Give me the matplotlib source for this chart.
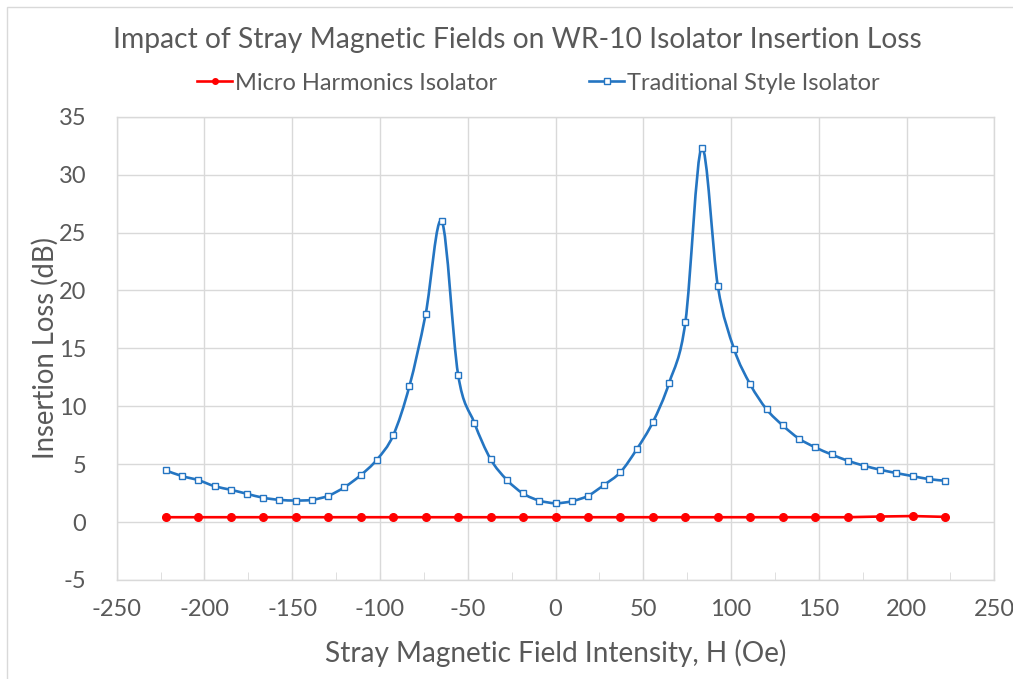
import numpy as np
import matplotlib
matplotlib.use("Agg")
import matplotlib.pyplot as plt
from matplotlib.path import Path
from matplotlib.patches import PathPatch, Rectangle
from matplotlib.lines import Line2D

# Field values (Oe)
h_trad_start, h_trad_step, n_trad = -222.0, 9.25, 49
h_micro_start, h_micro_step, n_micro = -222.0, 18.5, 25

# Traditional style isolator insertion loss (dB)
trad_loss = [4.46, 3.97, 3.62, 3.10, 2.79, 2.44, 2.10, 1.92, 1.86, 1.92,
             2.27, 3.01, 4.05, 5.39, 7.48, 11.73, 17.94, 25.96, 12.74, 8.57,
             5.44, 3.65, 2.47, 1.86, 1.63, 1.80, 2.27, 3.22, 4.31, 6.28,
             8.64, 12.02, 17.27, 32.31, 20.36, 14.94, 11.88, 9.74, 8.34, 7.20,
             6.45, 5.84, 5.30, 4.87, 4.52, 4.23, 3.97, 3.71, 3.57]

# Micro Harmonics isolator insertion loss (dB)
micro_loss = [0.42, 0.42, 0.42, 0.42, 0.42, 0.42, 0.42, 0.42, 0.42, 0.42,
              0.42, 0.42, 0.42, 0.42, 0.42, 0.42, 0.42, 0.42, 0.42, 0.42,
              0.42, 0.42, 0.48, 0.52, 0.45]

h_trad = h_trad_start + h_trad_step * np.arange(n_trad)
h_micro = h_micro_start + h_micro_step * np.arange(n_micro)

BLUE = "#2475C2"
RED = "#FF0000"
GRID = "#D9D9D9"
TEXT = "#595959"

plt.rcParams['font.family'] = ['Lato', 'DejaVu Sans']
plt.rcParams['axes.unicode_minus'] = False


def smooth_path(x, y):
    # Excel-style smoothed line: cubic bezier through every point
    pts = np.column_stack([x, y])
    verts = [pts[0]]
    codes = [Path.MOVETO]
    n = len(pts)
    for i in range(n - 1):
        p0 = pts[i - 1] if i > 0 else pts[i]
        p1 = pts[i]
        p2 = pts[i + 1]
        p3 = pts[i + 2] if i + 2 < n else pts[i + 1]
        c1 = p1 + (p2 - p0) / 6.0
        c2 = p2 - (p3 - p1) / 6.0
        verts += [c1, c2, p2]
        codes += [Path.CURVE4] * 3
    return Path(verts, codes)


fig = plt.figure(figsize=(10.13, 6.79), dpi=100)
ax = fig.add_axes([116.7 / 1013, 1 - 580 / 679, (994.3 - 116.7) / 1013, (580 - 116.7) / 679])

# chart border
fig.patches.append(Rectangle((7 / 1013, -0.1), 1.2, 1 - 7 / 679 + 0.1, transform=fig.transFigure,
                             fill=False, edgecolor=GRID, linewidth=1))

# traditional: smoothed line + square markers
ax.add_patch(PathPatch(smooth_path(h_trad, trad_loss), facecolor="none",
                       edgecolor=BLUE, linewidth=1.9, zorder=3))
ax.plot(h_trad, trad_loss, linestyle="none", marker="s", markersize=5,
        markerfacecolor="white", markeredgecolor=BLUE, markeredgewidth=1, zorder=4)

# micro harmonics
ax.plot(h_micro, micro_loss, color=RED, linewidth=1.9, marker="o", markersize=5.5,
        markerfacecolor=RED, markeredgecolor=RED, zorder=4)

ax.set_xlim(-250, 250)
ax.set_ylim(-5, 35)
ax.set_xticks(np.arange(-250, 251, 50))
ax.set_xticks(np.arange(-225, 250, 50), minor=True)
ax.set_yticks(np.arange(-5, 36, 5))
ax.grid(True, which="major", color=GRID, linewidth=1)
ax.set_axisbelow(True)
for s in ax.spines.values():
    s.set_color(GRID)
    s.set_linewidth(1)
ax.tick_params(axis="x", which="both", direction="in", color=GRID, length=6, labelsize=17,
               labelcolor=TEXT, pad=14)
ax.tick_params(axis="y", length=0, labelsize=17, labelcolor=TEXT, pad=22)

ax.set_xlabel("Stray Magnetic Field Intensity, H (Oe)", fontsize=20.2, color=TEXT, labelpad=14)
ax.set_ylabel("Insertion Loss (dB)", fontsize=19.8, color=TEXT, labelpad=0)

fig.text(517 / 1013, 1 - 40 / 679, "Impact of Stray Magnetic Fields on WR-10 Isolator Insertion Loss",
         ha="center", va="center", fontsize=20.3, color=TEXT)

handles = [Line2D([], [], color=RED, linewidth=1.9, marker="o", markersize=4),
           Line2D([], [], color=BLUE, linewidth=1.9, marker="s", markersize=4,
                  markerfacecolor="white", markeredgecolor=BLUE)]
fig.legend(handles, ["Micro Harmonics Isolator", "Traditional Style Isolator"],
           loc="center", bbox_to_anchor=(538 / 1013, 1 - 83 / 679), ncol=2, frameon=False,
           fontsize=17, labelcolor=TEXT, handlelength=1.5, handletextpad=0.1,
           columnspacing=3.9)

fig.savefig("out.png", dpi=100)
